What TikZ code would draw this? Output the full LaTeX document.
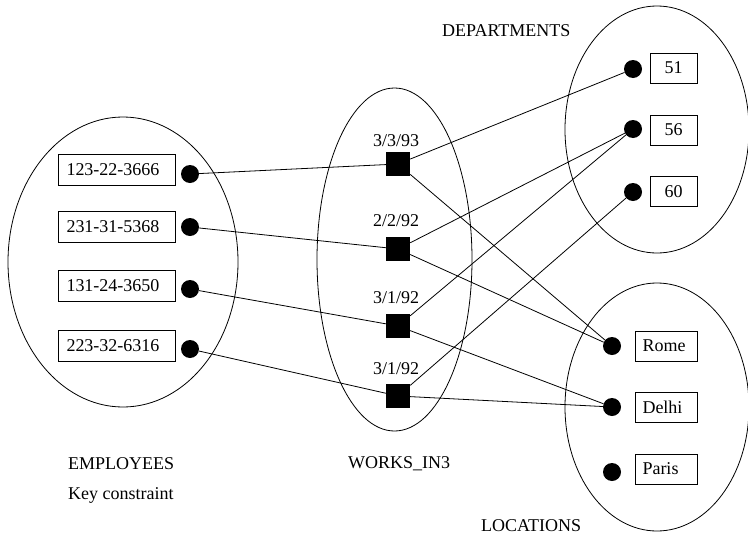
\documentclass[tikz,border=0pt]{standalone}
\usepackage{fontspec}
\setmainfont{Liberation Serif}
\begin{document}
\begin{tikzpicture}[x=1pt,y=-1pt,
  every node/.style={font=\fontsize{18}{20}\selectfont},
  conn/.style={line width=0.8pt},
  setell/.style={line width=0.8pt},
  embox/.style={draw,line width=0.8pt,rectangle,text width=100pt,inner xsep=8.5pt,inner ysep=0pt,minimum height=31pt,align=left},
  dbox/.style={draw,line width=0.8pt,rectangle,minimum width=47pt,minimum height=30pt,inner sep=0pt},
  lbox/.style={draw,line width=0.8pt,rectangle,text width=47pt,inner xsep=7.5pt,inner ysep=0pt,minimum height=30pt,align=left},
  dot/.style={circle,fill=black,minimum size=18pt,inner sep=0pt},
  rel/.style={rectangle,fill=black,minimum size=24pt,inner sep=0pt},
  lbl/.style={inner sep=0pt,anchor=base west},
  dlbl/.style={inner sep=0pt,anchor=base}]
\useasboundingbox (0,0) rectangle (748,536);
% ellipses
\draw[setell] (123,262) ellipse [x radius=115pt, y radius=145pt];
\draw[setell] (394.5,259.5) ellipse [x radius=77.5pt, y radius=171.5pt];
\draw[setell] (657,129.5) ellipse [x radius=92pt, y radius=123.5pt];
\draw[setell] (657,407) ellipse [x radius=92pt, y radius=124pt];
% employees
\node[embox] (e1) at (116.5,170) {123-22-3666};
\node[embox] (e2) at (116.5,227) {231-31-5368};
\node[embox] (e3) at (116.5,285.5) {131-24-3650};
\node[embox] (e4) at (116.5,346) {223-32-6316};
\node[dot] (ed1) at (190,174) {};
\node[dot] (ed2) at (190,227) {};
\node[dot] (ed3) at (190,289) {};
\node[dot] (ed4) at (190,349) {};
% relationship
\node[rel] (r1) at (398,164) {};
\node[rel] (r2) at (398,249) {};
\node[rel] (r3) at (398,326) {};
\node[rel] (r4) at (398,396) {};
\node[dlbl] (t1) at (396,146) {3/3/93};
\node[dlbl] (t2) at (396,226) {2/2/92};
\node[dlbl] (t3) at (396,303) {3/1/92};
\node[dlbl] (t4) at (396,374) {3/1/92};
% departments
\node[dbox] (d1) at (673.5,68) {51};
\node[dbox] (d2) at (673.5,130) {56};
\node[dbox] (d3) at (673.5,191.5) {60};
\node[dot] (dd1) at (633,69) {};
\node[dot] (dd2) at (633,129) {};
\node[dot] (dd3) at (633,192) {};
% locations
\node[lbox] (l1) at (666,346) {Rome};
\node[lbox] (l2) at (666,407) {Delhi};
\node[lbox] (l3) at (666,469) {Paris};
\node[dot] (ld1) at (612,346) {};
\node[dot] (ld2) at (612,407) {};
\node[dot] (ld3) at (612,472) {};
% connectors
\draw[conn] (ed1) -- (r1);
\draw[conn] (ed2) -- (r2);
\draw[conn] (ed3) -- (r3);
\draw[conn] (ed4) -- (r4);
\draw[conn] (r1) -- (dd1);
\draw[conn] (r1) -- (ld1);
\draw[conn] (r2) -- (dd2);
\draw[conn] (r2) -- (ld1);
\draw[conn] (r3) -- (dd2);
\draw[conn] (r3) -- (ld2);
\draw[conn] (r4) -- (dd3);
\draw[conn] (r4) -- (ld2);
% labels
\node[lbl] (lemp) at (68,469) {EMPLOYEES};
\node[lbl] (lkey) at (68,499) {Key constraint};
\node[lbl] (lwork) at (348,468) {WORKS\_IN3};
\node[lbl] (ldep) at (442,36.5) {DEPARTMENTS};
\node[lbl] (lloc) at (481,531) {LOCATIONS};
\end{tikzpicture}
\end{document}
